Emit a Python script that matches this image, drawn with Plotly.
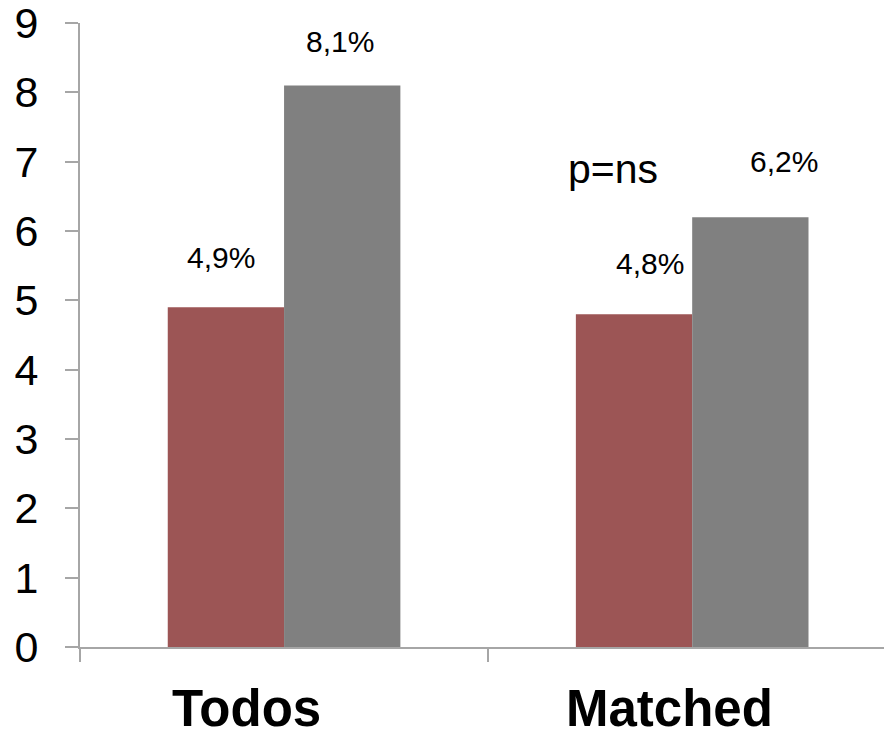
import plotly.graph_objects as go

categories = ["Todos", "Matched"]
serie_a = [4.9, 4.8]
serie_b = [8.1, 6.2]
labels_a = ["4,9%", "4,8%"]
labels_b = ["8,1%", "6,2%"]
y_ticks = [0, 1, 2, 3, 4, 5, 6, 7, 8, 9]

RED = "#9c5555"
GRAY = "#808080"
AXIS = "#a6a6a6"
FONT = "Liberation Sans, Arial, sans-serif"

fig = go.Figure()
fig.add_bar(x=categories, y=serie_a, marker=dict(color=RED, line=dict(width=0)), name="A")
fig.add_bar(x=categories, y=serie_b, marker=dict(color=GRAY, line=dict(width=0)), name="B")

annotations = []
# value labels (offsets in px relative to category centre / bar top)
a_shift = [(-63, 50), (-42, 51)]
b_shift = [(56, 44), (92, 56)]
for i, cat in enumerate(categories):
    annotations.append(dict(x=cat, y=serie_a[i], text=labels_a[i], showarrow=False,
                            xshift=a_shift[i][0], yshift=a_shift[i][1],
                            font=dict(size=30, color="#000000", family=FONT)))
    annotations.append(dict(x=cat, y=serie_b[i], text=labels_b[i], showarrow=False,
                            xshift=b_shift[i][0], yshift=b_shift[i][1],
                            font=dict(size=30, color="#000000", family=FONT)))

annotations.append(dict(x="Matched", y=6.9, text="p=ns", showarrow=False, xshift=-79,
                        font=dict(size=41, color="#000000", family=FONT)))

# category labels along the bottom edge
cat_shift = [-38, -23]
for i, cat in enumerate(categories):
    annotations.append(dict(x=cat, y=0, yref="paper", text="<b>%s</b>" % cat, showarrow=False,
                            xshift=cat_shift[i], yshift=-92, yanchor="bottom",
                            font=dict(size=51, color="#000000", family=FONT)))

fig.update_layout(
    width=884, height=739,
    margin=dict(l=80, r=0, t=23, b=92),
    paper_bgcolor="white", plot_bgcolor="white",
    showlegend=False,
    barmode="group", bargap=0.43, bargroupgap=0,
    annotations=annotations,
)
fig.update_xaxes(
    type="category", range=[-0.5, 1.47],
    showticklabels=False, tickson="boundaries",
    ticks="outside", ticklen=13, tickwidth=2, tickcolor=AXIS,
    showline=True, linecolor=AXIS, linewidth=2,
    showgrid=False, zeroline=False,
)
fig.update_yaxes(
    range=[0, 9], tickvals=y_ticks, ticktext=[str(v) for v in y_ticks],
    ticks="outside", ticklen=13, tickwidth=2, tickcolor=AXIS,
    showline=True, linecolor=AXIS, linewidth=2,
    showgrid=False, zeroline=False,
    tickfont=dict(size=43, color="#000000", family=FONT),
    ticklabelstandoff=18, ticklabeloverflow="allow",
)

fig.write_html("out.html")
